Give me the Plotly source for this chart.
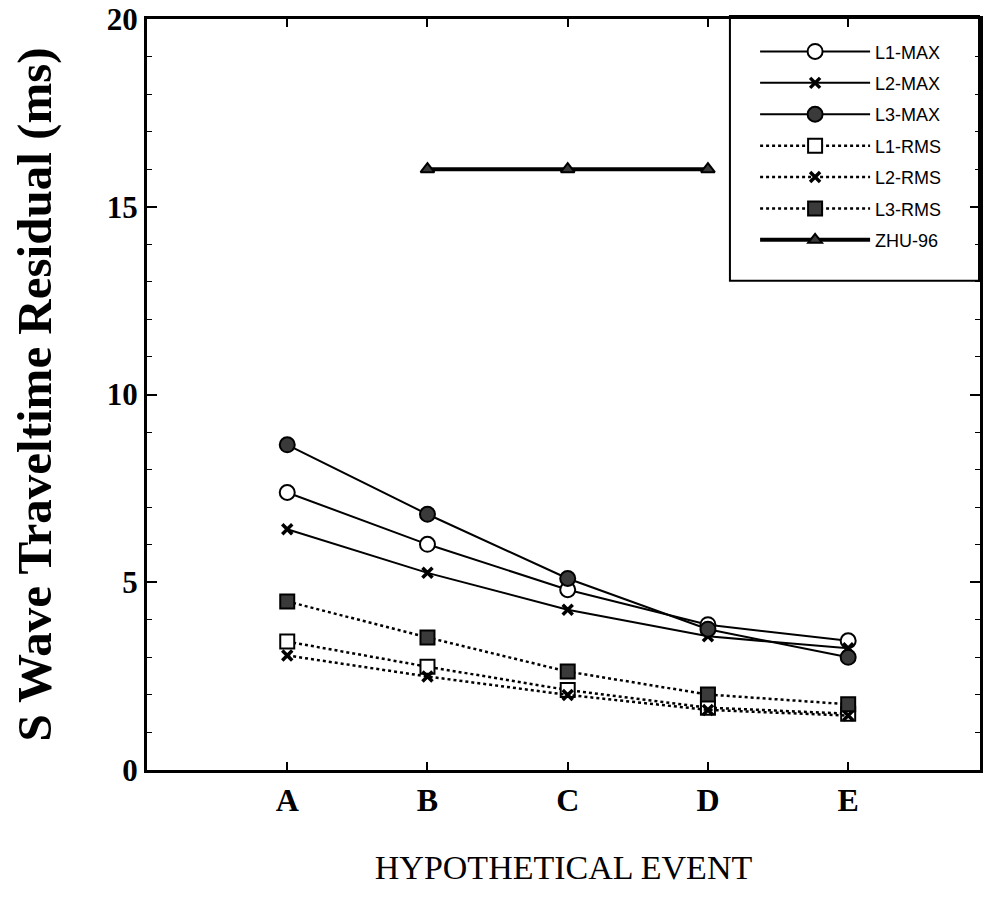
import plotly.graph_objects as go

events = ["A", "B", "C", "D", "E"]
xpos = [1, 2, 3, 4, 5]

l1_max = [7.39, 6.01, 4.80, 3.87, 3.44]
l2_max = [6.41, 5.25, 4.27, 3.56, 3.24]
l3_max = [8.66, 6.81, 5.10, 3.75, 3.00]
l1_rms = [3.42, 2.75, 2.13, 1.66, 1.50]
l2_rms = [3.05, 2.49, 2.00, 1.60, 1.45]
l3_rms = [4.49, 3.53, 2.62, 2.01, 1.75]
zhu_x = [2, 3, 4]
zhu_96 = [16.0, 16.0, 16.0]

fig = go.Figure()

def add(name, x, y, dash, width, symbol, fill, msize, mline=2):
    fig.add_trace(go.Scatter(
        x=x, y=y, name=name, mode="lines+markers", legendgroup=name,
        line=dict(color="black", width=width, dash=dash),
        marker=dict(symbol=symbol, size=msize, color=fill,
                    line=dict(color="black", width=mline)),
    ))

add("L1-MAX", xpos, l1_max, "solid", 2, "circle", "white", 15)
add("L2-MAX", xpos, l2_max, "solid", 2, "x-thin", "black", 10, 3.5)
add("L3-MAX", xpos, l3_max, "solid", 2, "circle", "#3a3a3a", 15)
add("L1-RMS", xpos, l1_rms, "dot", 2.5, "square", "white", 14)
add("L2-RMS", xpos, l2_rms, "dot", 2.5, "x-thin", "black", 10, 3.5)
add("L3-RMS", xpos, l3_rms, "dot", 2.5, "square", "#3a3a3a", 14)
add("ZHU-96", zhu_x, zhu_96, "solid", 4, "triangle-up", "#3a3a3a", 12)

serif = "Liberation Serif"

fig.update_layout(
    width=985, height=898,
    margin=dict(l=147, r=2, t=18, b=128),
    paper_bgcolor="white", plot_bgcolor="white",
    showlegend=True,
    legend=dict(
        x=0.730, y=0.981, xanchor="left", yanchor="top",
        bgcolor="rgba(0,0,0,0)", borderwidth=0,
        font=dict(family="Liberation Sans", size=18, color="black"),
        itemwidth=110, tracegroupgap=5, traceorder="grouped",
    ),
    xaxis=dict(
        range=[0, 5.94], tickmode="array", tickvals=xpos, ticktext=events,
        ticks="inside", ticklen=8, tickwidth=1.5, tickcolor="black",
        showline=True, linewidth=3, linecolor="black", mirror="ticks",
        showgrid=False, zeroline=False,
        tickfont=dict(family=serif, size=32, color="black", weight="bold"),
        title=dict(text="HYPOTHETICAL EVENT", standoff=38,
                   font=dict(family=serif, size=34, color="black")),
    ),
    yaxis=dict(
        range=[0, 20], tickvals=[0, 5, 10, 15, 20],
        ticks="inside", ticklen=10, tickwidth=1.5, tickcolor="black",
        minor=dict(dtick=1, ticks="inside", ticklen=5, tickwidth=1, tickcolor="black"),
        showline=True, linewidth=3, linecolor="black", mirror="ticks",
        showgrid=False, zeroline=False,
        tickfont=dict(family=serif, size=31, color="black", weight="bold"),
        title=dict(text="S Wave Traveltime Residual (ms)", standoff=40,
                   font=dict(family=serif, size=49, color="black", weight="bold")),
    ),
    shapes=[dict(type="rect", xref="paper", yref="paper",
                 x0=0.6998, x1=0.9988, y0=0.6516, y1=1.004,
                 line=dict(color="black", width=2), fillcolor="white",
                 layer="below")],
)

fig.write_html("out.html")
